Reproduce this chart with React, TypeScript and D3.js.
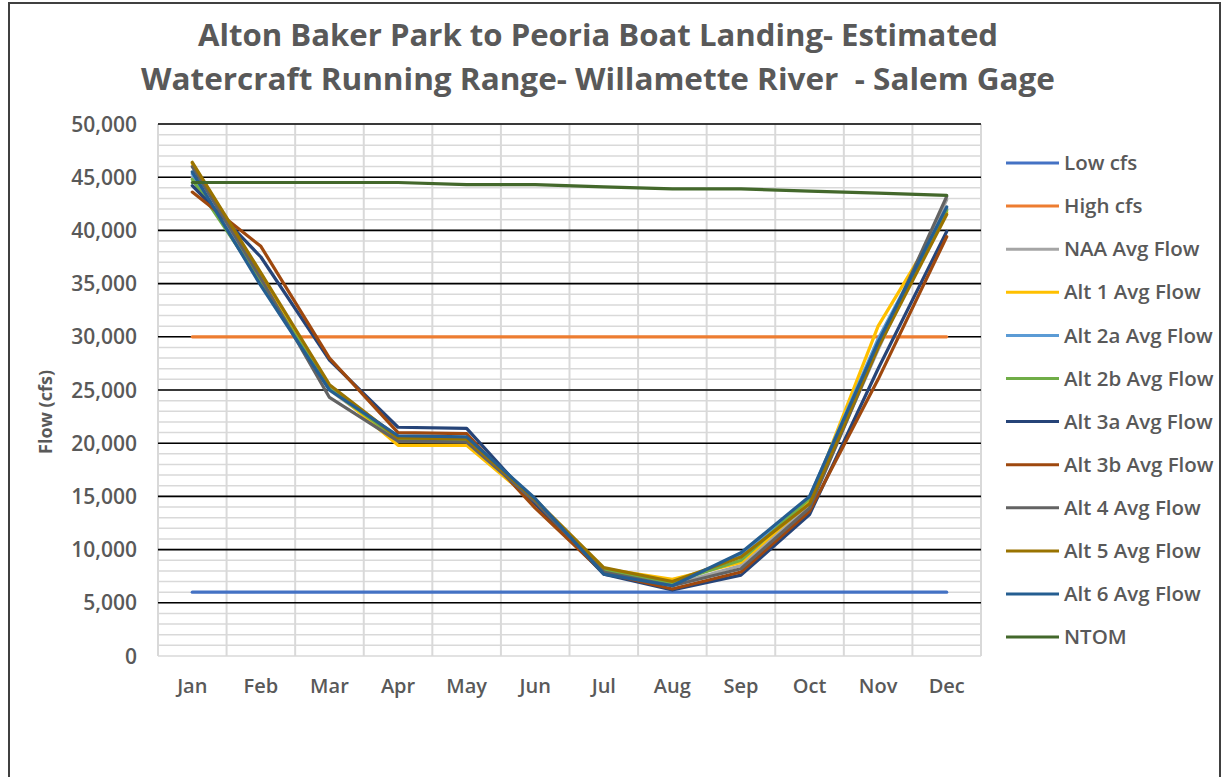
import React from 'react';
import * as d3 from 'd3';

const months = ['Jan', 'Feb', 'Mar', 'Apr', 'May', 'Jun', 'Jul', 'Aug', 'Sep', 'Oct', 'Nov', 'Dec'];
const yTicks = [0, 5000, 10000, 15000, 20000, 25000, 30000, 35000, 40000, 45000, 50000];
const titleLines = ['Alton Baker Park to Peoria Boat Landing- Estimated', 'Watercraft Running Range- Willamette River  - Salem Gage'];
const yAxisTitle = 'Flow (cfs)';

const seriesNames = ['Low cfs', 'High cfs', 'NAA Avg Flow', 'Alt 1 Avg Flow', 'Alt 2a Avg Flow', 'Alt 2b Avg Flow', 'Alt 3a Avg Flow', 'Alt 3b Avg Flow', 'Alt 4 Avg Flow', 'Alt 5 Avg Flow', 'Alt 6 Avg Flow', 'NTOM'];

const lowCfs = [6000, 6000, 6000, 6000, 6000, 6000, 6000, 6000, 6000, 6000, 6000, 6000];
const highCfs = [30000, 30000, 30000, 30000, 30000, 30000, 30000, 30000, 30000, 30000, 30000, 30000];
const naaAvg = [45000, 35500, 25000, 20300, 20200, 14500, 8000, 6700, 8500, 14200, 28800, 42900];
const alt1Avg = [46300, 35800, 25300, 19800, 19800, 14400, 8200, 7200, 8800, 14500, 31000, 41700];
const alt2aAvg = [45300, 35000, 25200, 20600, 20500, 14500, 8000, 6700, 9500, 14900, 29800, 42000];
const alt2bAvg = [44800, 35200, 25100, 20400, 20300, 14500, 8100, 6900, 9000, 14800, 29200, 41900];
const alt3aAvg = [44200, 37500, 27800, 21500, 21400, 14300, 7700, 6200, 7600, 13300, 27000, 39900];
const alt3bAvg = [43600, 38500, 28000, 21000, 20900, 13900, 7800, 6300, 7900, 13600, 26000, 39400];
const alt4Avg = [46000, 35500, 24300, 20200, 20100, 14500, 7900, 6600, 8200, 13900, 29000, 43200];
const alt5Avg = [46400, 36000, 25500, 20500, 20400, 14700, 8300, 7000, 9300, 14300, 29000, 41500];
const alt6Avg = [45500, 34800, 25000, 20700, 20600, 14800, 7700, 6600, 9700, 15000, 29500, 42200];
const ntom = [44500, 44500, 44500, 44500, 44300, 44300, 44100, 43900, 43900, 43700, 43500, 43300];

const seriesValues = [lowCfs, highCfs, naaAvg, alt1Avg, alt2aAvg, alt2bAvg, alt3aAvg, alt3bAvg, alt4Avg, alt5Avg, alt6Avg, ntom];
const seriesColors = ['#4472C4', '#ED7D31', '#A5A5A5', '#FFC000', '#5B9BD5', '#70AD47', '#264478', '#9E480E', '#636363', '#997300', '#255E91', '#43682B'];

const W = 1222;
const H = 777;
const plot = { left: 158, right: 981, top: 124, bottom: 656 };
const textColor = '#595959';
const font = "'Open Sans', 'Noto Sans', sans-serif";

export default function App() {
  const x = d3.scaleBand<string>().domain(months).range([plot.left, plot.right]).padding(0);
  const cx = (m: string) => (x(m) as number) + x.bandwidth() / 2;
  const y = d3.scaleLinear().domain([0, 50000]).range([plot.bottom, plot.top]);
  const minorTicks = d3.range(0, 50001, 1000);
  const fmt = d3.format(',');

  const line = d3
    .line<number>()
    .x((_, i) => cx(months[i]))
    .y((v) => y(v));

  const legendY = (i: number) => 163 + i * 43.1;

  return (
    <svg width={W} height={H} style={{ position: 'absolute', left: 0, top: 0, background: '#fff' }} fontFamily={font}>
      <rect x={0} y={0} width={W} height={H} fill="#fff" />
      <rect x={9} y={3} width={1211} height={H + 20} fill="none" stroke="#404040" strokeWidth={2} />

      {titleLines.map((t, i) => (
        <text
          key={i}
          x={598}
          y={46 + i * 44}
          textAnchor="middle"
          fontSize={31}
          fontWeight={700}
          fill={textColor}
          textLength={i === 0 ? 800 : 914}
          lengthAdjust="spacingAndGlyphs"
          style={{ whiteSpace: 'pre' }}
        >
          {t}
        </text>
      ))}

      {/* minor horizontal grid */}
      {minorTicks.map((v) => (
        <line key={'m' + v} x1={plot.left} x2={plot.right} y1={y(v)} y2={y(v)} stroke="#D9D9D9" strokeWidth={1.5} />
      ))}
      {/* vertical grid */}
      {months.concat(['end']).map((m, i) => {
        const xv = i < months.length ? (x(m) as number) : plot.right;
        return <line key={'v' + i} x1={xv} x2={xv} y1={plot.top} y2={plot.bottom} stroke="#D9D9D9" strokeWidth={2} />;
      })}
      {/* major horizontal grid */}
      {yTicks.filter((v) => v > 0).map((v) => (
        <line key={'M' + v} x1={plot.left} x2={plot.right} y1={y(v)} y2={y(v)} stroke="#000" strokeWidth={1.6} />
      ))}

      {/* y tick labels */}
      {yTicks.map((v) => (
        <text key={'t' + v} x={137} y={y(v)} dy="0.36em" textAnchor="end" fontSize={21} fontWeight={600} fill={textColor}>
          {fmt(v)}
        </text>
      ))}
      {/* x labels */}
      {months.map((m) => (
        <text key={m} x={cx(m)} y={693} textAnchor="middle" fontSize={20} fontWeight={600} fill={textColor}>
          {m}
        </text>
      ))}
      <text
        transform={`translate(52, 412) rotate(-90)`}
        textAnchor="middle"
        fontSize={18}
        fontWeight={700}
        fill={textColor}
      >
        {yAxisTitle}
      </text>

      {/* series */}
      {seriesValues.map((vals, i) => (
        <path
          key={seriesNames[i]}
          d={line(vals) as string}
          fill="none"
          stroke={seriesColors[i]}
          strokeWidth={3.2}
          strokeLinejoin="round"
          strokeLinecap="round"
        />
      ))}

      {/* legend */}
      {seriesNames.map((n, i) => (
        <g key={'lg' + n}>
          <line x1={1006} x2={1059} y1={legendY(i)} y2={legendY(i)} stroke={seriesColors[i]} strokeWidth={3} />
          <text x={1064} y={legendY(i)} dy="0.35em" fontSize={20.5} fontWeight={600} fill={textColor}>
            {n}
          </text>
        </g>
      ))}
    </svg>
  );
}
